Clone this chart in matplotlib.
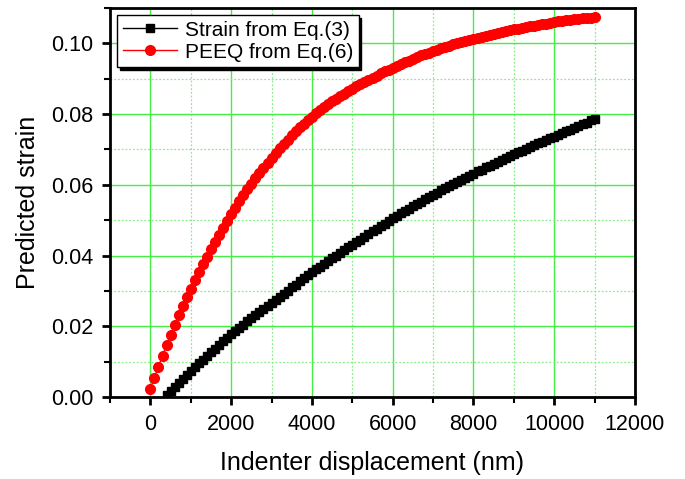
import numpy as np
import matplotlib
matplotlib.use("Agg")
import matplotlib.pyplot as plt
from matplotlib.ticker import MultipleLocator

plt.rcParams['font.family'] = ['Liberation Sans', 'DejaVu Sans']

# Indenter displacement grid (nm)
x_peeq = np.arange(0, 11001, 100)
x_strain = np.arange(400, 11001, 100)

# PEEQ from Eq.(6)
peeq = [
    0.0024, 0.0055, 0.0086, 0.0117, 0.0147, 0.0176, 0.0204, 0.0231, 0.0257, 0.0282,
    0.0306, 0.0330, 0.0353, 0.0375, 0.0397, 0.0418, 0.0439, 0.0459, 0.0479, 0.0498,
    0.0517, 0.0535, 0.0553, 0.0570, 0.0587, 0.0603, 0.0618, 0.0633, 0.0648, 0.0662,
    0.0676, 0.0690, 0.0703, 0.0716, 0.0728, 0.0740, 0.0752, 0.0763, 0.0773, 0.0783,
    0.0793, 0.0802, 0.0811, 0.0820, 0.0828, 0.0836, 0.0844, 0.0851, 0.0858, 0.0865,
    0.0872, 0.0879, 0.0885, 0.0891, 0.0897, 0.0903, 0.0909, 0.0915, 0.0921, 0.0926,
    0.0931, 0.0936, 0.0941, 0.0946, 0.0951, 0.0956, 0.0961, 0.0966, 0.0970, 0.0974,
    0.0978, 0.0982, 0.0986, 0.0990, 0.0993, 0.0997, 0.1000, 0.1004, 0.1007, 0.1010,
    0.1013, 0.1016, 0.1019, 0.1022, 0.1025, 0.1027, 0.1030, 0.1033, 0.1035, 0.1038,
    0.1040, 0.1042, 0.1044, 0.1046, 0.1048, 0.1050, 0.1052, 0.1054, 0.1056, 0.1058,
    0.1060, 0.1062, 0.1063, 0.1065, 0.1066, 0.1068, 0.1069, 0.1071, 0.1072, 0.1073,
    0.1075,
]

# Strain from Eq.(3)
strain = [
    0.0005, 0.0017, 0.0029, 0.0040, 0.0051, 0.0062, 0.0073, 0.0084, 0.0095, 0.0106,
    0.0116, 0.0127, 0.0137, 0.0147, 0.0158, 0.0168, 0.0178, 0.0187, 0.0196, 0.0205,
    0.0214, 0.0222, 0.0231, 0.0240, 0.0249, 0.0257, 0.0266, 0.0275, 0.0284, 0.0292,
    0.0301, 0.0310, 0.0318, 0.0327, 0.0336, 0.0344, 0.0353, 0.0361, 0.0369, 0.0377,
    0.0385, 0.0392, 0.0400, 0.0408, 0.0415, 0.0423, 0.0430, 0.0438, 0.0445, 0.0453,
    0.0460, 0.0468, 0.0475, 0.0483, 0.0490, 0.0498, 0.0505, 0.0512, 0.0519, 0.0526,
    0.0532, 0.0539, 0.0546, 0.0552, 0.0559, 0.0565, 0.0572, 0.0578, 0.0584, 0.0590,
    0.0596, 0.0602, 0.0608, 0.0614, 0.0620, 0.0626, 0.0632, 0.0638, 0.0643, 0.0649,
    0.0654, 0.0660, 0.0665, 0.0671, 0.0676, 0.0682, 0.0687, 0.0692, 0.0697, 0.0702,
    0.0707, 0.0712, 0.0717, 0.0722, 0.0727, 0.0731, 0.0736, 0.0741, 0.0746, 0.0751,
    0.0756, 0.0761, 0.0766, 0.0771, 0.0776, 0.0782, 0.0787,
]

x_ticks = [0, 2000, 4000, 6000, 8000, 10000, 12000]
y_ticks = [0.00, 0.02, 0.04, 0.06, 0.08, 0.10]

n = min(len(x_peeq), len(peeq))
m = min(len(x_strain), len(strain))

fig = plt.figure(figsize=(6.85, 4.79), dpi=100)
ax = fig.add_axes([110/685, 1-397/479, (635-110)/685, (397-8)/479])

ax.plot(x_strain[:m], strain[:m], color='black', lw=1, marker='s', ms=5.6,
        mec='black', mfc='black', label='Strain from Eq.(3)', zorder=3)
ax.plot(x_peeq[:n], peeq[:n], color='red', lw=1, marker='o', ms=7,
        mec='red', mfc='red', label='PEEQ from Eq.(6)', zorder=3)

ax.set_xlim(-1000, 12000)
ax.set_ylim(0, 0.11)
ax.set_xticks(x_ticks)
ax.set_yticks(y_ticks)
ax.set_yticklabels([f"{v:.2f}" for v in y_ticks])
ax.xaxis.set_minor_locator(MultipleLocator(1000))
ax.yaxis.set_minor_locator(MultipleLocator(0.01))

ax.grid(which='major', color='#44ee44', lw=1.0, ls='-', zorder=0)
ax.grid(which='minor', color='#88ee88', lw=0.9, ls=(0, (1.5, 1.5)), zorder=0)
ax.set_axisbelow(True)

for s in ax.spines.values():
    s.set_linewidth(2)
    s.set_color('black')

ax.tick_params(which='major', direction='out', length=6, width=2, labelsize=15.5,
               pad=6, top=False, right=False)
ax.tick_params(which='minor', direction='out', length=4, width=1.5,
               top=False, right=False)

ax.set_xlabel('Indenter displacement (nm)', fontsize=18, labelpad=12)
ax.set_ylabel('Predicted strain', fontsize=18, labelpad=8)

leg = ax.legend(loc='upper left', fontsize=15, frameon=True, fancybox=False,
                shadow={'color': 'black', 'alpha': 1}, framealpha=1,
                edgecolor='black', borderaxespad=0.35, borderpad=0.25,
                handlelength=2.6, handletextpad=0.4, labelspacing=0.15,
                markerscale=1.0)
leg.get_frame().set_linewidth(1.0)
leg.set_zorder(5)

fig.savefig('out.png', dpi=100)
